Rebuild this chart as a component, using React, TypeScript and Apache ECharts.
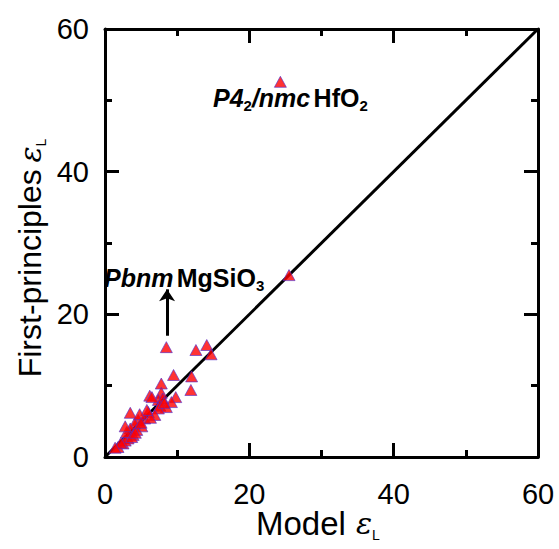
import React, { useEffect, useRef } from "react";
import * as echarts from "echarts";

// Model ε_L (x) and first-principles ε_L (y)
const modelEps = [
  24.3, 25.5, 8.5, 12.6, 14.1, 14.7, 9.5, 12.0, 11.9, 7.8,
  6.2, 7.8, 9.8, 9.2, 7.4, 8.0, 7.6, 8.5, 3.5, 6.0,
  7.4, 6.5, 6.9, 4.6, 5.5, 4.1, 3.5, 5.1, 4.4, 3.2,
  3.9, 2.5, 1.8, 2.8, 6.3, 5.8, 3.0, 4.8, 2.2, 8.2,
  2.8, 1.4, 3.7, 5.0, 4.2,
];
const fpEps = [
  52.6, 25.5, 15.4, 15.0, 15.7, 14.4, 11.5, 11.3, 9.4, 10.3,
  8.6, 9.0, 8.4, 7.7, 8.0, 8.2, 7.2, 7.0, 6.2, 6.3,
  6.8, 8.4, 5.9, 5.2, 5.4, 4.7, 4.0, 4.3, 3.8, 2.6,
  3.1, 1.9, 1.4, 2.3, 5.5, 6.6, 3.5, 6.0, 2.0, 7.6,
  4.3, 1.3, 2.8, 4.8, 3.4,
];
const axisMin = 0;
const axisMax = 60;
const labelStep = 20;
const diagonal = [
  [0, 0],
  [60, 60],
];
const arrowFrom = [8.6, 17.0];
const arrowTo = [8.6, 23.5];

const FONT = "'Liberation Sans', Arial, sans-serif";
const MAJOR = 14;
const MINOR = 7;

export default function App() {
  const ref = useRef<HTMLDivElement>(null);
  useEffect(() => {
    if (!ref.current) return;
    const chart = echarts.init(ref.current, null, { renderer: "svg" });
    const points = modelEps.map((x, i) => [x, fpEps[i]]);

    const axisCommon = (pos: string, showLabel: boolean) => ({
      type: "value",
      min: axisMin,
      max: axisMax,
      interval: labelStep,
      position: pos,
      axisLine: { show: true, onZero: false, lineStyle: { color: "#000", width: 3 } },
      axisTick: { show: true, inside: true, length: MAJOR, lineStyle: { color: "#000", width: 3 } },
      minorTick: { show: true, splitNumber: 2, length: MINOR, lineStyle: { color: "#000", width: 3 } },
      splitLine: { show: false },
      minorSplitLine: { show: false },
      axisLabel: {
        show: showLabel,
        fontSize: 29,
        color: "#000",
        fontFamily: FONT,
      },
    });

    const xb: any = axisCommon("bottom", true);
    xb.axisLabel.margin = 22;
    const xt: any = axisCommon("top", false);
    const yl: any = axisCommon("left", true);
    yl.axisLabel.margin = 16;
    const yr: any = axisCommon("right", false);

    const epsStyle = {
      fontSize: 30,
      fontFamily: "'DejaVu Serif', serif",
      fontStyle: "italic",
      fontWeight: "lighter",
      color: "#777",
      lineHeight: 36,
      verticalAlign: "middle",
    };
    const subStyle = { fontSize: 14, fontFamily: FONT, color: "#666", lineHeight: 14, verticalAlign: "bottom" };

    const annRich = {
      bi: { fontSize: 25, fontWeight: "bold", fontStyle: "italic", fontFamily: FONT, color: "#111", lineHeight: 30, verticalAlign: "middle" },
      b: { fontSize: 25, fontWeight: "bold", fontFamily: FONT, color: "#111", lineHeight: 30, verticalAlign: "middle" },
      sub: { fontSize: 15, fontWeight: "bold", fontFamily: FONT, color: "#111", lineHeight: 12, verticalAlign: "bottom" },
    };

    chart.setOption({
      animation: false,
      backgroundColor: "#fff",
      grid: { left: 105, right: 21, top: 29, bottom: 92, outerBoundsMode: "none", containLabel: false },
      xAxis: [xb, xt],
      yAxis: [yl, yr],
      graphic: [
        {
          type: "text",
          x: 256,
          y: 504,
          style: {
            text: "{a|Model}   {e|ε}{s|L}",
            rich: {
              a: { fontSize: 33, fontFamily: FONT, color: "#111", lineHeight: 38, verticalAlign: "middle" },
              e: epsStyle,
              s: subStyle,
            },
          },
        },
        {
          type: "text",
          x: 30,
          y: 258,
          rotation: Math.PI / 2,
          style: {
            text: "{a|First-principles}  {e|ε}{s|L}",
            align: "center",
            verticalAlign: "middle",
            textAlign: "center",
            textVerticalAlign: "middle",
            rich: {
              a: { fontSize: 32, fontFamily: FONT, color: "#111", lineHeight: 36, verticalAlign: "middle" },
              e: epsStyle,
              s: subStyle,
            },
          },
        },
        {
          type: "text",
          x: 104,
          y: 263,
          style: { text: "{bi|Pbnm} {b|MgSiO}{sub|3}", rich: annRich },
        },
        {
          type: "text",
          x: 213,
          y: 83,
          style: { text: "{bi|P4}{sub|2}{bi|/nmc} {b|HfO}{sub|2}", rich: annRich },
        },
      ],
      series: [
        {
          type: "line",
          data: diagonal,
          symbol: "none",
          lineStyle: { color: "#000", width: 3 },
          silent: true,
          z: 1,
        },
        {
          type: "scatter",
          data: points,
          symbol: "triangle",
          symbolSize: [12, 11],
          itemStyle: { color: "#ff0000", borderColor: "#5030d0", borderWidth: 0.8 },
          z: 3,
          markLine: {
            silent: true,
            symbol: ["none", "arrow"],
            symbolSize: [12, 12],
            lineStyle: { color: "#000", width: 3, type: "solid" },
            label: { show: false },
            data: [[{ coord: arrowFrom }, { coord: arrowTo }]],
          },
        },
      ],
    });
    return () => chart.dispose();
  }, []);
  return (
    <div
      ref={ref}
      style={{ position: "absolute", left: 0, top: 0, width: 559, height: 549 }}
    />
  );
}
